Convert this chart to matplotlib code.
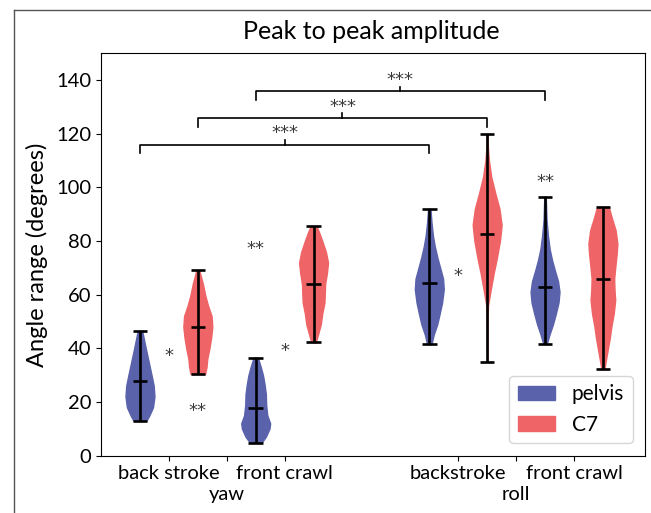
import matplotlib
matplotlib.use("Agg")
import matplotlib.pyplot as plt
from matplotlib.patches import Patch
from matplotlib.lines import Line2D

plt.rcParams['font.family'] = ['Lato', 'DejaVu Sans']

# violin positions: yaw (back stroke, front crawl), gap, roll (backstroke, front crawl)
positions = [1, 2, 3, 4, 6, 7, 8, 9]
groups = ["pelvis", "C7", "pelvis", "C7", "pelvis", "C7", "pelvis", "C7"]

# density profiles (angle in degrees, relative width)
coords = [
    [13.0, 15, 18, 22, 26, 30, 35, 40, 44, 46.5],
    [30.4, 33, 36, 40, 44, 48, 52, 56, 60, 64, 67, 69.2],
    [4.8, 7, 10, 12, 15, 19, 23, 27, 30, 33, 36.5],
    [42.2, 45, 49, 53, 57, 61, 64, 68, 72, 76, 80, 83, 85.6],
    [41.5, 45, 49, 53, 57, 62, 66, 70, 74, 78, 82, 87, 92.0],
    [35.0, 50, 56, 62, 68, 74, 80, 86, 92, 98, 104, 110, 115, 120.0],
    [41.6, 45, 49, 53, 57, 61, 65, 69, 73, 77, 82, 88, 96.6],
    [32.2, 36, 40, 44, 48, 53, 58, 62, 66, 70, 75, 79, 84, 88, 92.8],
]
dens = [
    [0.45, 0.65, 0.9, 1.0, 0.95, 0.8, 0.6, 0.4, 0.25, 0.15],
    [0.5, 0.6, 0.65, 0.8, 0.92, 1.0, 0.95, 0.7, 0.5, 0.35, 0.2, 0.1],
    [0.4, 0.7, 0.95, 1.0, 0.8, 0.72, 0.7, 0.6, 0.5, 0.35, 0.15],
    [0.15, 0.3, 0.5, 0.6, 0.75, 0.78, 0.8, 0.92, 1.0, 0.85, 0.6, 0.4, 0.2],
    [0.15, 0.3, 0.55, 0.72, 0.88, 1.0, 0.95, 0.75, 0.55, 0.38, 0.25, 0.15, 0.08],
    [0.0, 0.02, 0.06, 0.25, 0.45, 0.68, 0.88, 1.0, 0.85, 0.55, 0.28, 0.12, 0.05, 0.02],
    [0.12, 0.3, 0.55, 0.75, 0.93, 1.0, 0.9, 0.68, 0.48, 0.32, 0.2, 0.1, 0.05],
    [0.1, 0.22, 0.35, 0.48, 0.58, 0.75, 0.85, 0.8, 0.78, 0.85, 0.95, 1.0, 0.88, 0.65, 0.4],
]
medians = [27.9, 47.8, 17.6, 64.0, 64.5, 82.6, 63.0, 65.7]

# significance brackets: (left pos, right pos, height, label)
brackets = [(1, 6, 116, "***"), (2, 7, 126, "***"), (3, 8, 136, "***")]
# single stars: (x, y, label)
stars = [(1.5, 39, "*"), (2.0, 18.5, "**"), (3.0, 79, "**"), (3.5, 41, "*"),
         (6.5, 69, "*"), (8.0, 104, "**")]

tick_pos = [1.5, 2.5, 3.5, 6.5, 7.5, 8.5]
tick_labels = ["back stroke", "", "front crawl", "backstroke", "", "front crawl"]
group_pos = [2.5, 7.5]
group_labels = ["yaw", "roll"]

colors = {"pelvis": "#5a62ab", "C7": "#ef6466"}

fig = plt.figure(figsize=(6.51, 5.13), dpi=100)
ax = fig.add_axes([0.155, 0.112, 0.836, 0.784])

vpstats = []
for c, d, m in zip(coords, dens, medians):
    vpstats.append({"coords": c, "vals": d, "mean": m, "median": m,
                    "min": c[0], "max": c[-1]})

parts = ax.violin(vpstats, positions=positions, widths=0.5,
                  showmeans=False, showextrema=True, showmedians=True)
for body, g in zip(parts["bodies"], groups):
    body.set_facecolor(colors[g])
    body.set_edgecolor(colors[g])
    body.set_alpha(1)
for key in ["cmaxes", "cmins", "cbars", "cmedians"]:
    parts[key].set_color("black")
    parts[key].set_linewidth(1.9)

star_font = dict(family="DejaVu Sans", fontsize=13, color="#3a3a3a")
for x1, x2, h, lab in brackets:
    ax.plot([x1, x1, x2, x2], [h - 3.3, h, h, h - 3.3], color="black", lw=1.2)
    xm = (x1 + x2) / 2
    ax.plot([xm, xm], [h, h + 1.6], color="black", lw=1.2)
    ax.text(xm, h + 0.8, lab, ha="center", va="bottom", **star_font)

for x, y, lab in stars:
    ax.text(x, y - 2, lab, ha="center", va="center", **star_font)

ax.set_xlim(0.325, 9.73)
ax.set_ylim(0, 150)
ax.set_yticks([0, 20, 40, 60, 80, 100, 120, 140])
ax.set_xticks(tick_pos)
ax.set_xticklabels(tick_labels)
ax.tick_params(labelsize=14.5)
for gx, gl in zip(group_pos, group_labels):
    ax.text(gx, -0.098, gl, transform=ax.get_xaxis_transform(),
            ha="center", va="center", fontsize=14.5)
ax.set_ylabel("Angle range (degrees)", fontsize=17, labelpad=6)
fig.text(0.57, 0.938, "Peak to peak amplitude", ha="center", va="center", fontsize=18)

handles = [Patch(facecolor=colors["pelvis"], edgecolor=colors["pelvis"], label="pelvis"),
           Patch(facecolor=colors["C7"], edgecolor=colors["C7"], label="C7")]
ax.legend(handles=handles, loc="lower right", fontsize=15, handlelength=1.8,
          borderaxespad=0.6)

# outer frame of the picture
fig.add_artist(Line2D([14 / 651, 1], [1 - 10 / 513, 1 - 10 / 513],
                      transform=fig.transFigure, color="#555555", lw=1))
fig.add_artist(Line2D([14 / 651, 14 / 651], [0, 1 - 10 / 513],
                      transform=fig.transFigure, color="#555555", lw=1))

fig.savefig("out.png", dpi=100)
